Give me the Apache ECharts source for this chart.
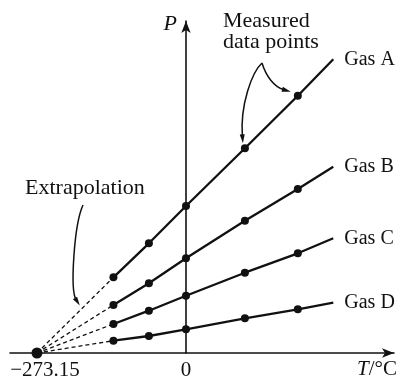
<!DOCTYPE html>
<html>
<head>
<meta charset="utf-8">
<script src="https://cdn.jsdelivr.net/npm/echarts@6/dist/echarts.min.js"></script>
<style>html,body{margin:0;padding:0;background:#fff;}#main{width:401px;height:381px;}</style>
</head>
<body>
<div id="main"></div>
<script>
// Temperatures (°C) of the measured data points
const temps = [-133, -68, 0, 108, 205];
const tEnd = 270;            // end of drawn lines
const tZero = -273.15;       // extrapolated zero-pressure temperature
const gasNames = ['Gas A', 'Gas B', 'Gas C', 'Gas D'];
// Pressure (arbitrary units) at measured points, plus value at line end
const gasA = [75.7, 109.7, 147, 204.7, 257.3];
const gasB = [48, 69.7, 94.7, 132.3, 164];
const gasC = [29, 42.3, 57.3, 80.3, 99.7];
const gasD = [12.3, 17, 23.7, 34.7, 43.7];
const gasEnd = [293.7, 186.3, 114.7, 50.3];
const xTickValues = [-273.15, 0];
const xTickLabels = ['−273.15', '0'];

const gasData = [gasA, gasB, gasC, gasD];
const FONT = '"Liberation Serif", "Times New Roman", serif';
const INK = '#111';

const series = [];
gasData.forEach((vals, i) => {
  // dashed extrapolation
  series.push({
    type: 'line', name: gasNames[i] + ' extrapolation',
    data: [[tZero, 0], [temps[0], vals[0]]],
    symbol: 'none', silent: true,
    lineStyle: { color: INK, width: 1.3, type: [4, 3] },
    z: 2
  });
  // solid measured line
  const d = temps.map((t, k) => [t, vals[k]]);
  d.push({ value: [tEnd, gasEnd[i]], symbol: 'none' });
  series.push({
    type: 'line', name: gasNames[i],
    data: d,
    symbol: 'circle', symbolSize: 8,
    itemStyle: { color: INK, opacity: 1 },
    lineStyle: { color: INK, width: 2.3 },
    endLabel: {
      show: true, formatter: '{a}', color: INK,
      fontFamily: FONT, fontSize: 20, distance: 11
    },
    z: 3
  });
});
series.push({
  type: 'scatter', data: [[tZero, 0]], symbolSize: 11,
  itemStyle: { color: INK, opacity: 1 }, z: 5
});

const option = {
  backgroundColor: '#fff',
  animation: false,
  grid: { left: 10, right: 7, top: 21, bottom: 28, containLabel: false },
  xAxis: {
    type: 'value', min: -322.6, max: 381.3,
    name: '{i|T}/°C', nameLocation: 'end', nameGap: 3,
    nameTextStyle: {
      color: INK, fontFamily: FONT, fontSize: 21,
      align: 'right', verticalAlign: 'top', padding: [6, 0, 0, 0],
      rich: { i: { fontStyle: 'italic', fontFamily: FONT, fontSize: 21, color: INK } }
    },
    splitLine: { show: false },
    axisTick: { show: false },
    axisLine: { onZero: true, symbol: ['none', 'arrow'], symbolSize: [7, 12],
      lineStyle: { color: INK, width: 1.6 } },
    axisLabel: {
      customValues: xTickValues,
      formatter: v => {
        const idx = xTickValues.indexOf(v);
        const s = idx >= 0 ? xTickLabels[idx] : '';
        return idx === 0 ? '{a|' + s + '}' : s;
      },
      color: INK, fontFamily: FONT, fontSize: 21, margin: 7,
      rich: { a: { padding: [0, 0, 0, 16], color: INK, fontFamily: FONT, fontSize: 21 } }
    }
  },
  yAxis: {
    type: 'value', min: 0, max: 332,
    name: 'P', nameLocation: 'end', nameGap: 8,
    nameTextStyle: { color: INK, fontFamily: FONT, fontSize: 22, fontStyle: 'italic',
      align: 'right', verticalAlign: 'top', padding: [0, 9, 0, 0] },
    splitLine: { show: false },
    axisTick: { show: false },
    axisLabel: { show: false },
    axisLine: { onZero: true, symbol: ['none', 'arrow'], symbolSize: [7, 12],
      lineStyle: { color: INK, width: 1.6 } }
  },
  series: series
};

const chart = echarts.init(document.getElementById('main'));
chart.setOption(option);

function arrow(p0, c1, c2, tip) {
  const dx = tip[0] - c2[0], dy = tip[1] - c2[1];
  const len = Math.hypot(dx, dy) || 1;
  const ux = dx / len, uy = dy / len;
  const L = 9, W = 5;
  const bx = tip[0] - ux * L, by = tip[1] - uy * L;
  const nx = -uy, ny = ux;
  return [
    { type: 'bezierCurve', silent: true, z: 10,
      shape: { x1: p0[0], y1: p0[1], cpx1: c1[0], cpy1: c1[1], cpx2: c2[0], cpy2: c2[1], x2: bx + ux * 2, y2: by + uy * 2 },
      style: { stroke: INK, lineWidth: 1.5, fill: null } },
    { type: 'polygon', silent: true, z: 10,
      shape: { points: [tip, [bx + nx * W / 2, by + ny * W / 2], [bx - nx * W / 2, by - ny * W / 2]] },
      style: { fill: INK } }
  ];
}

const pA3 = chart.convertToPixel({ gridIndex: 0 }, [temps[3], gasA[3]]);
const pA4 = chart.convertToPixel({ gridIndex: 0 }, [temps[4], gasA[4]]);
const pO = chart.convertToPixel({ gridIndex: 0 }, [tZero, 0]);
const pA0 = chart.convertToPixel({ gridIndex: 0 }, [temps[0], gasA[0]]);
const f = 0.56;
const pExt = [pO[0] + f * (pA0[0] - pO[0]), pO[1] + f * (pA0[1] - pO[1]) - 5];

const apex = [262, 63];
const tipL = [pA3[0] - 2, pA3[1] - 5];
const tipR = [pA4[0] - 7, pA4[1] - 4];

const graphics = []
  .concat(arrow(apex, [252, 72], [240, 105], tipL))
  .concat(arrow(apex, [266, 76], [274, 87], tipR))
  .concat(arrow([83, 205], [74, 225], [70, 290], pExt));

graphics.push({
  type: 'text', silent: true, z: 10,
  style: { text: 'Measured\ndata points', x: 223, y: 11, fill: INK,
    font: '22px ' + FONT, align: 'left', verticalAlign: 'top', lineHeight: 21 }
});
graphics.push({
  type: 'text', silent: true, z: 10,
  style: { text: 'Extrapolation', x: 25, y: 188, fill: INK,
    font: '22px ' + FONT, align: 'left', verticalAlign: 'middle' }
});

chart.setOption({ graphic: { elements: graphics } });
</script>
</body>
</html>
